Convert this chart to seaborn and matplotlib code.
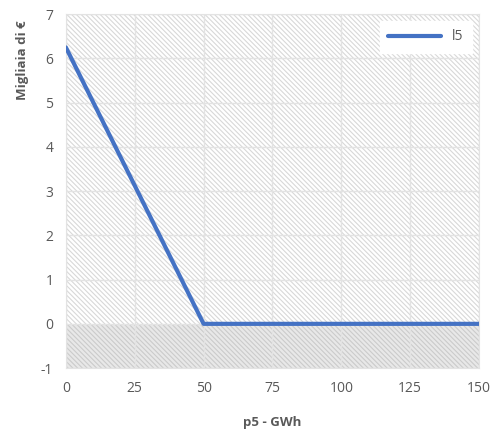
import numpy as np
import pandas as pd
import matplotlib
matplotlib.use('Agg')
import matplotlib.pyplot as plt
import seaborn as sns

# Data
p5 = [0, 50, 150]
l5 = [6.25, 0, 0]
x_ticks = [0, 25, 50, 75, 100, 125, 150]
y_ticks = [-1, 0, 1, 2, 3, 4, 5, 6, 7]

df = pd.DataFrame({'p5': p5, 'l5': l5})

sns.set_style('white')
plt.rcParams['font.family'] = ['Open Sans', 'DejaVu Sans']
plt.rcParams['axes.unicode_minus'] = False
plt.rcParams['hatch.linewidth'] = 0.8

fig = plt.figure(figsize=(4.99, 4.30), dpi=100)
ax = fig.add_axes([0.132, 0.144, 0.828, 0.823])

# hatched background, darker band below zero
ax.fill_between([0, 150], 0, 7, facecolor='white', hatch='\\' * 7, edgecolor='#d8d8d8', linewidth=0, zorder=0)
ax.fill_between([0, 150], -1, 0, facecolor='#e8e8e8', hatch='\\' * 7, edgecolor='#cbcbcb', linewidth=0, zorder=0)

sns.lineplot(data=df, x='p5', y='l5', color='#4472C4', linewidth=3, label='l5', ax=ax, zorder=3)

ax.set_xlim(0, 150)
ax.set_ylim(-1, 7)
ax.set_xticks(x_ticks)
ax.set_yticks(y_ticks)
ax.grid(True, color='#e3e3e3', linewidth=1, zorder=1)
ax.set_axisbelow(False)
for s in ax.spines.values():
    s.set_color('#e3e3e3')
ax.tick_params(colors='#595959', labelsize=10, length=0, pad=9)

ax.set_xlabel('p5 - GWh', fontsize=9.5, fontweight='bold', color='#595959')
ax.xaxis.set_label_coords(0.5, -0.135)
ax.set_ylabel('Migliaia di €', fontsize=9.5, fontweight='bold', color='#595959')
ax.yaxis.set_label_coords(-0.09, 0.87)

leg = ax.legend(loc='upper right', frameon=True, fancybox=False, fontsize=10,
                handlelength=3.8, borderpad=0.6)
leg.get_frame().set_edgecolor('white')
leg.get_frame().set_facecolor('white')
leg.get_frame().set_alpha(1)
for t in leg.get_texts():
    t.set_color('#595959')

fig.savefig('out.png', dpi=100)
